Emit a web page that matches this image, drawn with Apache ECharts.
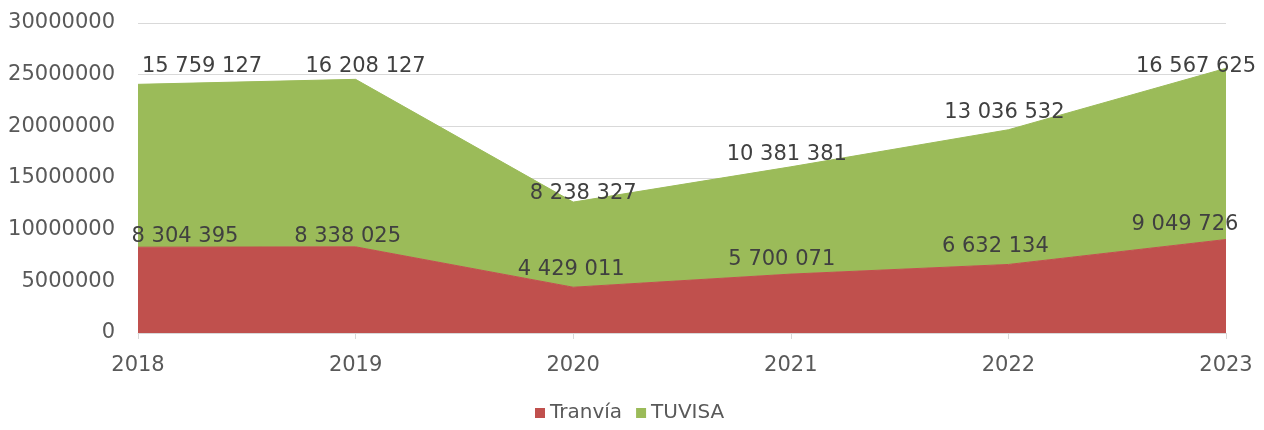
<!DOCTYPE html>
<html>
<head>
<meta charset="utf-8">
<script src="https://cdn.jsdelivr.net/npm/echarts@6/dist/echarts.min.js"></script>
<style>
  html, body { margin: 0; padding: 0; background: #ffffff; }
  #chart { width: 1264px; height: 430px; }
</style>
</head>
<body>
<div id="chart"></div>
<script>
// Passengers per year, split by operator
const years = ['2018', '2019', '2020', '2021', '2022', '2023'];
const tranvia = [8304395, 8338025, 4429011, 5700071, 6632134, 9049726];
const tuvisa = [15759127, 16208127, 8238327, 10381381, 13036532, 16567625];
const yTicks = [0, 5000000, 10000000, 15000000, 20000000, 25000000, 30000000];

// Per-point label nudges [dx, dy] so the value labels sit clear of the edges
const tranviaShift = [[47, 5], [-8, 5], [-2, -2], [-9, 1], [-13, -2], [-41, 1]];
const tuvisaShift = [[64, -2], [10, 3], [10, 7], [-4, 3], [-4, -2], [-30, 14]];

const FONT = 'DejaVu Sans';
const fmt = v => String(v).replace(/\B(?=(\d{3})+(?!\d))/g, ' ');

function areaSeries(name, values, shifts, color, z) {
  return {
    name: name,
    type: 'line',
    stack: 'total',
    data: values,
    symbol: 'circle',
    symbolSize: 0,
    showSymbol: true,
    lineStyle: { width: 1, color: color },
    itemStyle: { color: color },
    areaStyle: { color: color, opacity: 1 },
    label: {
      show: true,
      position: 'top',
      distance: 5,
      fontFamily: FONT,
      fontSize: 21,
      color: '#404040',
      formatter: p => fmt(p.value)
    },
    labelLayout: p => ({
      dx: shifts[p.dataIndex][0],
      dy: shifts[p.dataIndex][1],
      hideOverlap: false
    }),
    z: z
  };
}

const chart = echarts.init(document.getElementById('chart'), null, { renderer: 'canvas' });

chart.setOption({
  animation: false,
  backgroundColor: '#ffffff',
  grid: { left: 138, right: 38, top: 23, bottom: 97, containLabel: false },
  legend: {
    data: ['Tranvía', 'TUVISA'],
    left: 530,
    top: 398,
    itemWidth: 10,
    itemHeight: 10,
    itemGap: 14,
    icon: 'rect',
    textStyle: { fontFamily: FONT, fontSize: 20, color: '#595959' }
  },
  xAxis: {
    type: 'category',
    data: years,
    boundaryGap: false,
    axisLine: { lineStyle: { color: '#d9d9d9', width: 1 } },
    axisTick: { show: true, length: 6, lineStyle: { color: '#d9d9d9' } },
    axisLabel: { margin: 22, fontFamily: FONT, fontSize: 21, color: '#595959' },
    splitLine: { show: false }
  },
  yAxis: {
    type: 'value',
    min: yTicks[0],
    max: yTicks[yTicks.length - 1],
    interval: yTicks[1] - yTicks[0],
    axisLine: { show: false },
    axisTick: { show: false },
    axisLabel: {
      margin: 23,
      fontFamily: FONT,
      fontSize: 21,
      color: '#595959',
      formatter: v => String(v)
    },
    splitLine: { lineStyle: { color: '#d9d9d9', width: 1 } }
  },
  series: [
    areaSeries('Tranvía', tranvia, tranviaShift, '#C0504D', 3),
    areaSeries('TUVISA', tuvisa, tuvisaShift, '#9BBB59', 2)
  ]
});
</script>
</body>
</html>
